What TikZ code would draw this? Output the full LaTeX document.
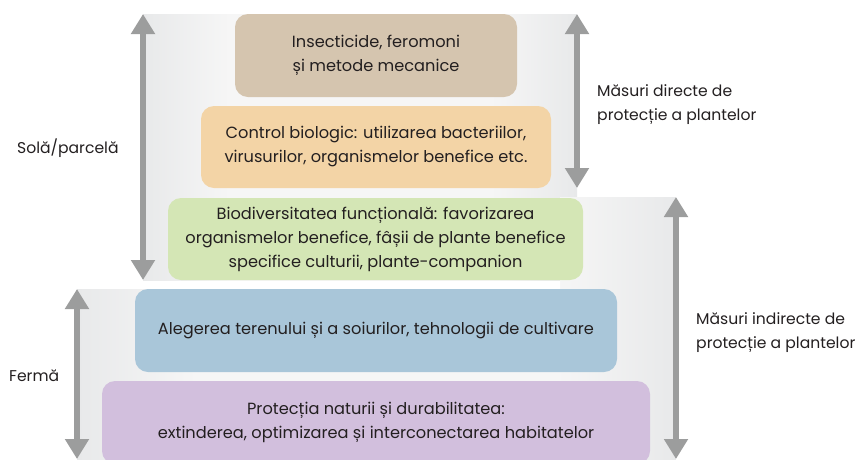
\documentclass[tikz,border=0pt]{standalone}
\usepackage{fontspec}
\setmainfont{Poppins}
\usetikzlibrary{arrows.meta}
\definecolor{pgray}{HTML}{E8E9EA}
\definecolor{plight}{HTML}{F6F6F6}
\definecolor{agray}{HTML}{9C9D9D}
\definecolor{txt}{HTML}{231F20}
\definecolor{cTan}{HTML}{D5C5AF}
\definecolor{cOrange}{HTML}{F3D4A6}
\definecolor{cGreen}{HTML}{D4E6B5}
\definecolor{cBlue}{HTML}{A9C6D9}
\definecolor{cPurple}{HTML}{D2BFDD}
\pgfdeclarehorizontalshading{panelshade}{100bp}{color(0bp)=(pgray); color(25bp)=(pgray); color(35bp)=(plight); color(65bp)=(plight); color(75bp)=(pgray); color(100bp)=(pgray)}
\begin{document}
\begin{tikzpicture}[x=1pt,y=-1pt,
  box/.style={rounded corners=13pt, minimum height=83pt, inner sep=0pt, align=center, text=txt, font=\fontsize{16.2}{24}\selectfont},
  lbl/.style={text=txt, font=\fontsize{15.6}{24}\selectfont, inner sep=0pt},
  scalearrow/.style={line width=6pt, draw=agray, {Triangle[width=23pt,length=20pt]}-{Triangle[width=23pt,length=20pt]}}]
\useasboundingbox (0,0) rectangle (857,459);
\shade[shading=panelshade] (143,14) rectangle (577,280);
\shade[shading=panelshade] (560,197) -- (676,197) -- (676,470) -- (77,470) -- (77,289) -- (560,289) -- cycle;
\node[box, fill=cTan, minimum width=282pt] (b1) at (376,55.5) {Insecticide, feromoni\\și metode mecanice};
\node[box, fill=cOrange, minimum width=350pt, minimum height=82pt] (b2) at (376,147) {Control biologic: utilizarea bacteriilor,\\virusurilor, organismelor benefice etc.};
\node[box, fill=cGreen, minimum width=415pt, minimum height=82pt] (b3) at (375.5,239) {Biodiversitatea funcțională: favorizarea\\organismelor benefice, fâșii de plante benefice\\specifice culturii, plante-companion};
\node[box, fill=cBlue, minimum width=482pt] (b4) at (376,330.5) {Alegerea terenului și a soiurilor, tehnologii de cultivare};
\node[box, fill=cPurple, minimum width=548pt] (b5) at (376,422.5) {Protecția naturii și durabilitatea:\\extinderea, optimizarea și interconectarea habitatelor};
\coordinate (s1) at (143,14); \coordinate (s2) at (143,280);
\coordinate (f1) at (77,289); \coordinate (f2) at (77,459);
\coordinate (d1) at (577,14); \coordinate (d2) at (577,188);
\coordinate (i1) at (676,197); \coordinate (i2) at (676,459);
\draw[scalearrow] (s1) -- (s2);
\draw[scalearrow] (f1) -- (f2);
\draw[scalearrow] (d1) -- (d2);
\draw[scalearrow] (i1) -- (i2);
\node[lbl, anchor=west] (sola) at (17,148) {Solă/parcelă};
\node[lbl, anchor=west] (ferma) at (9,376) {Fermă};
\node[lbl, anchor=west, align=left] (dir) at (597,105) {Măsuri directe de\\protecție a plantelor};
\node[lbl, anchor=west, align=left] (ind) at (696,333) {Măsuri indirecte de\\protecție a plantelor};
\end{tikzpicture}
\end{document}
